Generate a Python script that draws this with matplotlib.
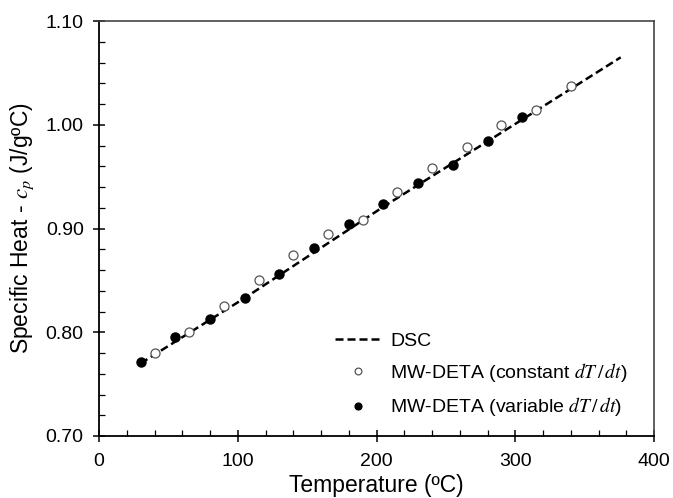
import matplotlib
matplotlib.use("Agg")
import matplotlib.pyplot as plt
from matplotlib.ticker import MultipleLocator, FormatStrFormatter

plt.rcParams.update({
    "font.family": ["Liberation Sans", "DejaVu Sans"],
    "mathtext.fontset": "stix",
})

# -- data --
dsc_T  = [30, 105, 205, 305, 376]
dsc_cp = [0.770, 0.833, 0.921, 1.005, 1.065]

const_T  = [40, 65, 90, 115, 140, 165, 190, 215, 240, 265, 290, 315, 340]
const_cp = [0.780, 0.800, 0.825, 0.850, 0.874, 0.895, 0.908, 0.935, 0.958,
            0.979, 1.000, 1.014, 1.037]

var_T  = [30, 55, 80, 105, 130, 155, 180, 205, 230, 255, 280, 305]
var_cp = [0.771, 0.795, 0.813, 0.833, 0.856, 0.881, 0.904, 0.924, 0.944,
          0.961, 0.984, 1.007]

fig = plt.figure(figsize=(6.73, 4.98), dpi=100)
ax = fig.add_axes([0.1471, 0.1245, 0.8247, 0.8333])

ax.plot(dsc_T, dsc_cp, color="black", ls=(0, (3.2, 1.6)), lw=1.8, label="DSC", zorder=2)
ax.plot(const_T, const_cp, ls="none", marker="o", ms=6.5, mfc="white",
        mec="#555555", mew=0.9, label="MW-DETA (constant $dT\\,/\\,dt$)", zorder=3)
ax.plot(var_T, var_cp, ls="none", marker="o", ms=6.5, mfc="black",
        mec="black", label="MW-DETA (variable $dT\\,/\\,dt$)", zorder=3)

ax.set_xlim(0, 400)
ax.set_ylim(0.70, 1.10)
ax.xaxis.set_major_locator(MultipleLocator(100))
ax.xaxis.set_minor_locator(MultipleLocator(20))
ax.yaxis.set_major_locator(MultipleLocator(0.10))
ax.yaxis.set_minor_locator(MultipleLocator(0.02))
ax.yaxis.set_major_formatter(FormatStrFormatter("%.2f"))

ax.tick_params(which="major", direction="inout", length=8, width=1.1,
               labelsize=14, colors="black")
ax.tick_params(which="minor", direction="in", length=4, width=0.9)
ax.tick_params(axis="x", which="both", top=False)
ax.tick_params(axis="y", which="both", right=False)
ax.tick_params(axis="x", which="major", pad=8)
ax.tick_params(axis="y", which="major", pad=7)

for s in ["left", "bottom"]:
    ax.spines[s].set_linewidth(1.3)
    ax.spines[s].set_color("black")
for s in ["top", "right"]:
    ax.spines[s].set_linewidth(1.2)
    ax.spines[s].set_color("#444444")

ax.set_xlabel("Temperature (ºC)", fontsize=16.5, labelpad=3)
ax.set_ylabel("Specific Heat - $c_p$ (J/gºC)", fontsize=16.5, labelpad=7)

leg = ax.legend(loc="upper left", bbox_to_anchor=(0.425, 0.25), frameon=False,
                fontsize=14, handlelength=2.4, handletextpad=0.45,
                labelspacing=0.58, markerscale=0.75, borderaxespad=0,
                borderpad=0)

fig.savefig("out.png", dpi=100)
